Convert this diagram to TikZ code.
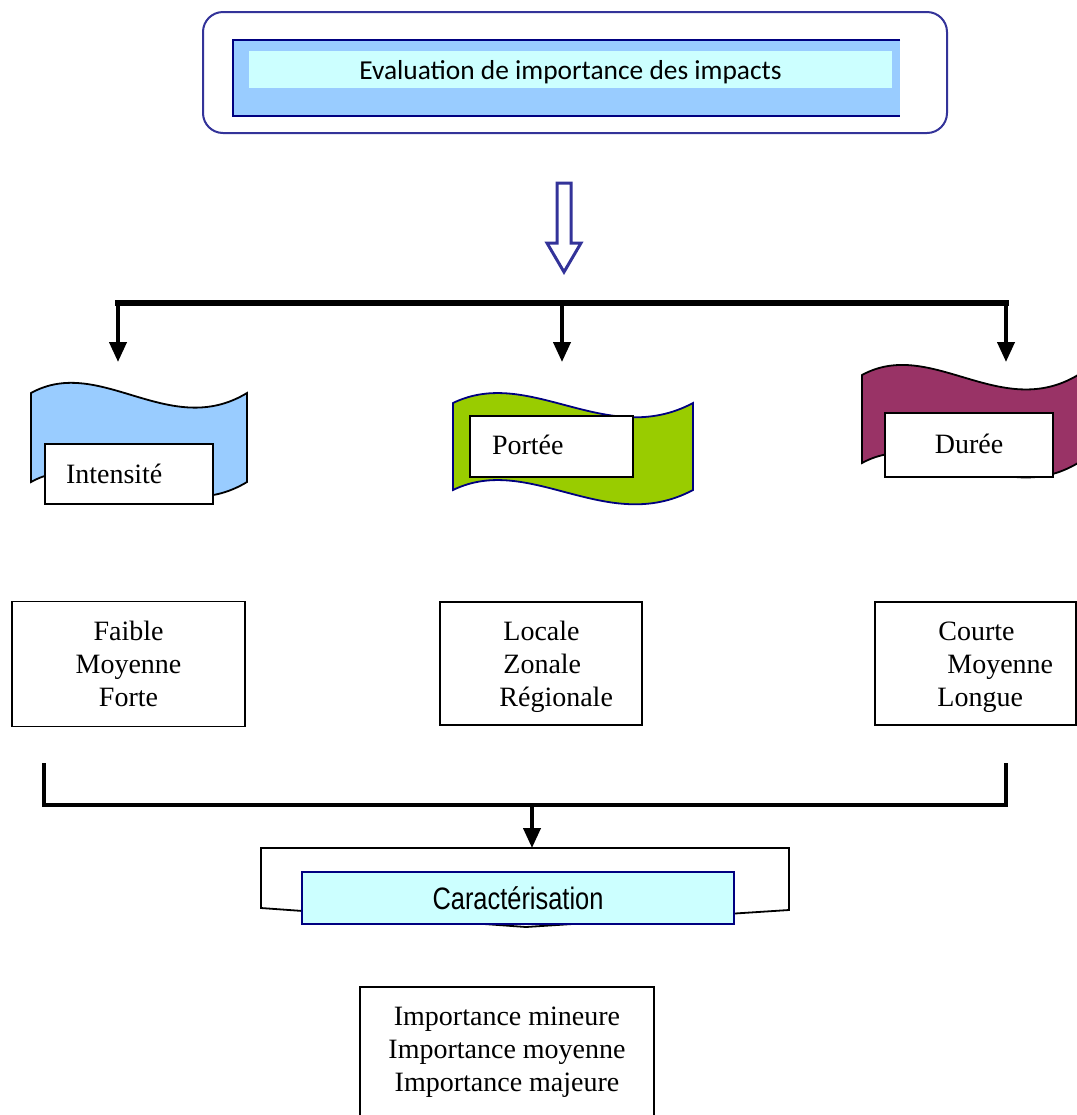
\documentclass[tikz,border=0pt]{standalone}
\usepackage{fontspec}
\setmainfont{Liberation Serif}
\newfontfamily\calibrifont{Carlito}
\newfontfamily\narrowfont[FakeStretch=0.82]{Liberation Sans}
\usepackage{tikz}
\usetikzlibrary{arrows.meta,calc,positioning}
\definecolor{skyblue}{HTML}{99CCFF}
\definecolor{palecyan}{HTML}{CCFFFF}
\definecolor{leafgreen}{HTML}{99CC00}
\definecolor{plum}{HTML}{993366}
\definecolor{indigo}{HTML}{333399}
\definecolor{navyline}{HTML}{000080}
\tikzset{
	impact chart/.style={x=0.5pt, y=-0.5pt, font=\fontsize{14}{16.5}\selectfont},
	frame/.style={draw=indigo, line width=1pt, rounded corners=10pt, inner sep=0pt},
	band/.style={inner sep=0pt, outer sep=0pt},
	bar/.style={line width=3pt, line cap=rect},
	stem/.style={line width=2pt, -{Triangle[length=10pt,width=8.5pt]}},
	bracket/.style={line width=2pt},
	tag/.style={draw, fill=white, line width=0.9pt, align=left, inner ysep=0pt},
	listbox/.style={draw, fill=white, line width=0.9pt, inner sep=0pt},
	listtext/.style={align=left, inner sep=0pt}
}
% banner: x, y, width, height, fill, draw
\newcommand\wavebanner[6]{%
	\filldraw[fill=#5, draw=#6, line width=0.9pt]
		(#1,#2) .. controls +(0.32*#3,-0.43*#4) and +(-0.36*#3,0.53*#4) .. (#1+#3,#2)
		-- (#1+#3,#2+#4)
		.. controls +(-0.36*#3,0.53*#4) and +(0.32*#3,-0.43*#4) .. (#1,#2+#4) -- cycle;}

\begin{document}
\begin{tikzpicture}[impact chart]
  \useasboundingbox (0,0) rectangle (1077,1115);
  \clip (0,0) rectangle (1077,1115);

  \node[frame, minimum width=372pt, minimum height=60.5pt] (frame) at (575,72.5) {};
  \node[band, fill=skyblue, minimum width=333.5pt, minimum height=38pt] (band) at (566.5,78) {};
  \draw[navyline, line width=1pt] (band.north east) -- (band.north west) -- (band.south west) -- (band.south east);
  \node[band, fill=palecyan, minimum width=321.5pt, minimum height=18.5pt] (title) at (570.5,69.5) {};
  \node[font=\calibrifont\fontsize{13.7}{16}\selectfont, inner sep=0pt] (title text) at (570.5,72)
        {Evaluation de importance des impacts};

  \draw[indigo, line width=1.5pt, line join=miter]
        (557,183) -- (571,183) -- (571,243) -- (581,243) -- (564,272) -- (547,243) -- (557,243) -- cycle;

  \coordinate (bar west) at (118,303);
  \coordinate (bar mid) at (562,303);
  \coordinate (bar east) at (1006,303);
  \draw[bar] (bar west) -- (bar east);
  \foreach \c/\n in {bar west/int, bar mid/por, bar east/dur} {
    \coordinate (\n tip) at ($(\c)+(0,59)$);
    \draw[stem] (\c) -- (\n tip);
  }

  \wavebanner{31}{393}{216}{89}{skyblue}{black}
  \wavebanner{453}{403}{240}{87}{leafgreen}{navyline}
  \wavebanner{862}{375}{216}{88}{plum}{black}

  \node[tag, text width=63pt, inner xsep=10.5pt, minimum height=30pt] (intensite) at (129,474) {Intensité};
  \node[tag, text width=59.5pt, inner xsep=11pt, minimum height=30.5pt] (portee) at (551.5,446.5)
        {\raisebox{1.5pt}{Portée}};
  \node[tag, align=center, minimum width=84pt, minimum height=32pt] (duree) at (969,445)
        {\raisebox{1.5pt}{Durée}};

  \node[listbox, align=center, minimum width=116.5pt, minimum height=62.5pt] (intensite list) at (128.5,664)
        {Faible\\Moyenne\\Forte};
  \node[listbox, minimum width=101pt, minimum height=61.5pt] (portee list) at (541,663.5) {};
  \node[listtext, anchor=west] (portee text) at (499,667) {\hspace*{2pt}Locale\\\hspace*{2pt}Zonale\\Régionale};
  \node[listbox, minimum width=100.5pt, minimum height=61.5pt] (duree list) at (975.5,663.5) {};
  \node[listtext, anchor=west] (duree text) at (937,667) {\hspace*{0.5pt}Courte\\\hspace*{5pt}Moyenne\\Longue};

  \coordinate (join west) at (44,763);
  \coordinate (join east) at (1006,763);
  \coordinate (join mid) at (532,805);
  \draw[bracket] (join west) -- (44,805) -- (1006,805) -- (join east);
  \coordinate (caract top) at (532,848);
  \draw[stem] (join mid) -- (caract top);

  \draw[line width=0.9pt, fill=white] (261,908) -- (261,848) -- (789,848) -- (789,910) -- (526,927) -- cycle;
  \node[fill=palecyan, draw=navyline, line width=1pt, minimum width=216pt, minimum height=26pt, inner sep=0pt,
        font=\narrowfont\fontsize{15.5}{18}\selectfont] (caract) at (518,898) {Caractérisation};

  \node[listbox, anchor=north, minimum width=147pt, minimum height=75pt] (result box) at (507,986) {};
  \node[listtext, align=center] (result) at (507,1052) {Importance mineure\\Importance moyenne\\Importance majeure};
\end{tikzpicture}
\end{document}
